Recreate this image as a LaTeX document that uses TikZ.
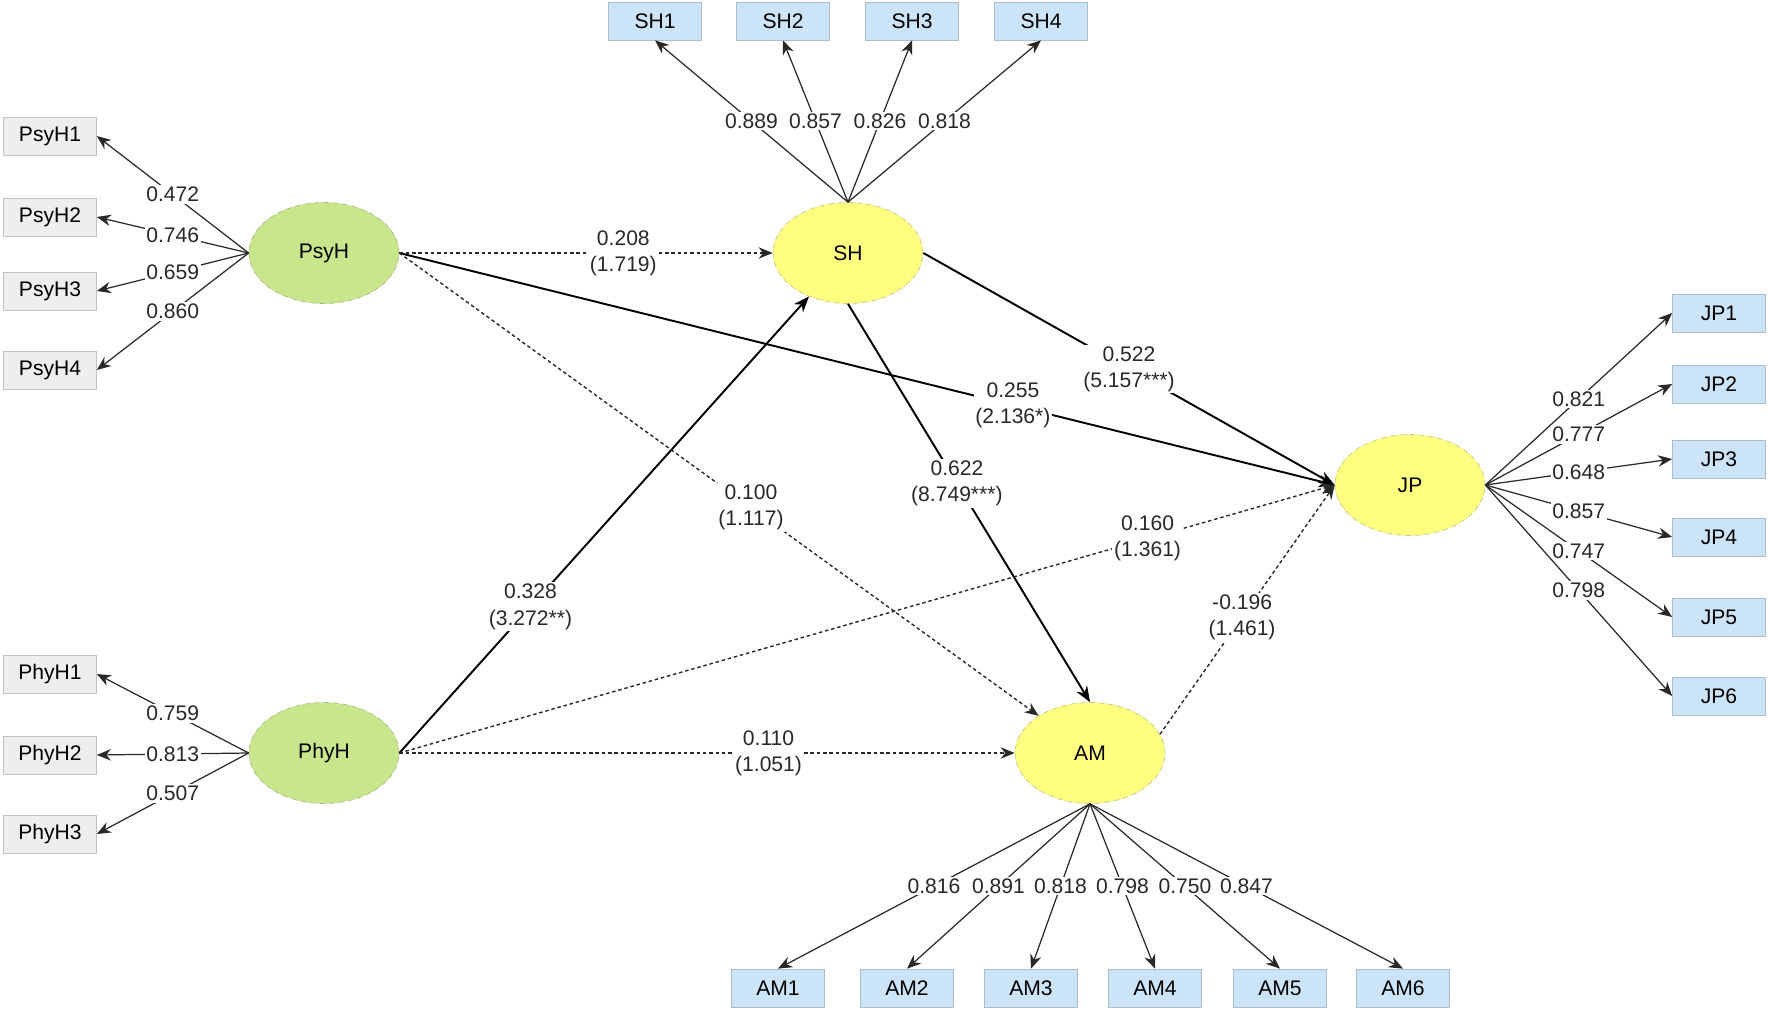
\documentclass[tikz,border=0pt]{standalone}
\usepackage{fontspec}
\setmainfont{Liberation Sans}
\usetikzlibrary{shapes, arrows.meta, positioning, calc}
\definecolor{latgreen}{RGB}{200, 230, 140}
\definecolor{latyellow}{RGB}{255, 255, 128}
\definecolor{indblue}{RGB}{204, 228, 247}
\definecolor{indgray}{RGB}{238, 238, 238}
\definecolor{txtgray}{RGB}{40, 40, 40}

\begin{document}
\begin{tikzpicture}[x=0.02cm, y=-0.02cm,
  latent/.style={ellipse, draw=#1!55!gray, densely dashdotted, line width=0.4pt, fill=#1, minimum width=3cm, minimum height=2.02cm, font=\fontsize{12}{15}\selectfont},
  ind/.style={draw=#1!60!gray, fill=#1, minimum width=1.86cm, minimum height=0.76cm, font=\fontsize{12}{15}\selectfont},
  load/.style={-{Stealth[length=8pt, width=6.5pt]}, line width=0.7pt, txtgray},
  sig/.style={-{Stealth[length=9pt, width=7pt]}, line width=1.1pt},
  ns/.style={-{Stealth[length=8pt, width=6.5pt]}, dash pattern=on 2pt off 1.6pt, line width=0.8pt, txtgray},
  lbl/.style={fill=white, inner sep=1pt, align=center, font=\fontsize{12}{15}\selectfont, text=txtgray},
]
  \useasboundingbox (0,0) rectangle (1770,1010);

  % Latent variables
  \node[latent=latgreen] (psyh) at (324, 253) {PsyH};
  \node[latent=latgreen] (phyh) at (324, 753) {PhyH};
  \node[latent=latyellow] (sh) at (848, 253) {SH};
  \node[latent=latyellow] (jp) at (1410, 485) {JP};
  \node[latent=latyellow] (am) at (1090, 753) {AM};

  % Indicators and loadings
  \foreach \i/\y/\v in {1/136/0.472, 2/217/0.746, 3/291/0.659, 4/370/0.860} {
    \node[ind=indgray] (psyh\i) at (50, \y) {PsyH\i};
    \draw[load] (psyh.west) -- node[lbl] {\v} (psyh\i.east);
  }
  \foreach \i/\y/\v in {1/674/0.759, 2/755/0.813, 3/834/0.507} {
    \node[ind=indgray] (phyh\i) at (50, \y) {PhyH\i};
    \draw[load] (phyh.west) -- node[lbl] {\v} (phyh\i.east);
  }
  \foreach \i/\x/\v in {1/655/0.889, 2/783/0.857, 3/912/0.826, 4/1041/0.818} {
    \node[ind=indblue] (sh\i) at (\x, 21) {SH\i};
    \draw[load] (sh.north) -- node[lbl] {\v} (sh\i.south);
  }
  \foreach \i/\y/\v in {1/313/0.821, 2/384/0.777, 3/459/0.648, 4/537/0.857, 5/617/0.747, 6/696/0.798} {
    \node[ind=indblue] (jp\i) at (1719, \y) {JP\i};
    \draw[load] (jp.east) -- node[lbl] {\v} (jp\i.west);
  }
  \foreach \i/\x/\v in {1/778/0.816, 2/907/0.891, 3/1031/0.818, 4/1155/0.798, 5/1280/0.750, 6/1403/0.847} {
    \node[ind=indblue] (am\i) at (\x, 988) {AM\i};
    \draw[load] (am.south) -- node[lbl] {\v} (am\i.north);
  }

  % Significant paths
  \draw[sig] (phyh.east) -- node[lbl, pos=0.32] {0.328\\(3.272**)} (sh);
  \draw[sig] (psyh.east) -- node[lbl, pos=0.656] {0.255\\(2.136*)} (jp.west);
  \draw[sig] (sh.east) -- node[lbl, pos=0.5] {0.522\\(5.157***)} (jp.west);
  \draw[sig] (sh.south) -- node[lbl, pos=0.45] {0.622\\(8.749***)} (am.north);

  % Non-significant paths
  \draw[ns] (psyh.east) -- node[lbl, pos=0.6] {0.208\\(1.719)} (sh.west);
  \draw[ns] (psyh.east) -- node[lbl, pos=0.55] {0.100\\(1.117)} (am);
  \draw[ns] (phyh.east) -- node[lbl, pos=0.8] {0.160\\(1.361)} (jp.west);
  \draw[ns] (phyh.east) -- node[lbl, pos=0.6] {0.110\\(1.051)} (am.west);
  \draw[ns] (am.15) -- node[lbl, pos=0.47] {-0.196\\(1.461)} (jp.west);
\end{tikzpicture}
\end{document}
